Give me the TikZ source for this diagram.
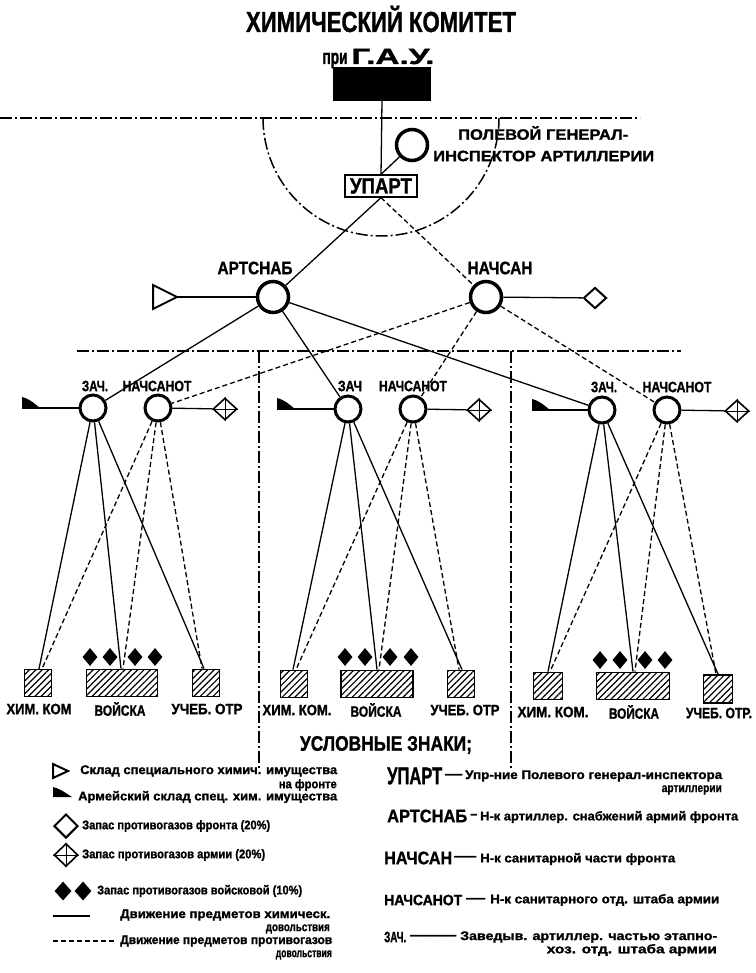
\documentclass[tikz,border=0pt]{standalone}
\usepackage{fontspec}
\setmainfont{Liberation Sans}[BoldFeatures={FakeBold=1.3}]
\usepackage{graphicx}
\usetikzlibrary{shapes.geometric,patterns.meta}
\newcommand\fw[2]{\resizebox{#1}{\height}{#2}}
\newcommand\fsz[1]{\bfseries\fontsize{#1}{#1}\selectfont}
\tikzset{
  ln/.style={line width=1.3pt},
  dsh/.style={line width=1.3pt, dash pattern=on 5pt off 3pt},
  dd/.style={line width=1.5pt, dash pattern=on 12pt off 3pt on 2pt off 3pt},
  org/.style={circle, draw, line width=3pt, minimum size=26pt, inner sep=0pt, fill=white},
  orgbig/.style={circle, draw, line width=3.5pt, minimum size=31pt, inner sep=0pt, fill=white},
  lbl/.style={inner sep=0pt, font=\fsz{15}},
  hbox/.style={draw, line width=1.8pt, pattern={Lines[angle=45,distance=4.5pt,line width=1.2pt]}, minimum height=27pt, inner sep=0pt},
  bd/.style={diamond, fill=black, minimum width=15pt, minimum height=18pt, inner sep=0pt},
  od/.style={diamond, draw, line width=2pt, minimum width=23pt, minimum height=21pt, inner sep=0pt},
  cd/.style={diamond, draw, line width=1.6pt, minimum width=24pt, minimum height=22pt, inner sep=0pt},
  sm/.style={inner sep=0pt, font=\fsz{12.5}},
}
\newcommand\crossin[1]{\draw[line width=1pt] (#1.north) -- (#1.south) (#1.west) -- (#1.east);}
\begin{document}
\begin{tikzpicture}[x=1pt,y=1pt]
\fill[white] (0,0) rectangle (755,-973);
\useasboundingbox (0,0) rectangle (755,-973);

% ---------- top ----------
\node[inner sep=0pt, font=\fsz{29}] (title) at (381,-19) {\fw{270pt}{ХИМИЧЕСКИЙ КОМИТЕТ}};
\node[inner sep=0pt, font=\fsz{21}, anchor=base] (pri) at (335,-64) {\fw{25pt}{при}};
\node[inner sep=0pt, font=\fsz{22}, anchor=base] (gaut) at (393,-64) {\fw{83pt}{Г.А.У.}};
\node[fill=black, minimum width=98pt, minimum height=34pt, inner sep=0pt] (gau) at (382,-84) {};

\draw[dd] (0,-118) -- (640,-118);
\draw[dd] (263,-118) arc[start angle=180, end angle=360, radius=118];

\node[orgbig] (pgi) at (412,-145) {};
\node[anchor=west, inner sep=0pt, font=\fsz{15}] (pgit1) at (458,-133) {\fw{170pt}{ПОЛЕВОЙ ГЕНЕРАЛ-}};
\node[anchor=west, inner sep=0pt, font=\fsz{15}] (pgit2) at (433,-156) {\fw{221pt}{ИНСПЕКТОР АРТИЛЛЕРИИ}};

\node[draw, fill=white, line width=1.3pt, minimum width=72pt, minimum height=22pt, inner sep=0pt, font=\fsz{22}] (upart) at (381,-186) {\fw{62pt}{УПАРТ}};

\draw[ln] (gau.south) -- (upart.north);
\draw[ln] (pgi) -- (upart.north);

% ---------- front level ----------
\node[orgbig] (artsnab) at (273,-297) {};
\node[orgbig] (nachsan) at (486,-297) {};
\node[inner sep=0pt, font=\fsz{18}] (artsnabL) at (255,-268) {\fw{75pt}{АРТСНАБ}};
\node[inner sep=0pt, font=\fsz{18}] (nachsanL) at (500,-268) {\fw{65pt}{НАЧСАН}};

\draw[line width=2pt, line join=miter] (153,-285) -- (177,-297) -- (153,-309) -- cycle;
\coordinate (tri) at (177,-297);
\node[od] (dfront) at (595,-298) {};

\draw[ln] (upart.south) -- (artsnab);
\draw[dsh] (upart.south) -- (nachsan);
\draw[ln] (tri) -- (artsnab);
\draw[ln] (nachsan) -- (dfront);

\draw[dd] (77,-351) -- (681,-351);
\draw[dd] (259,-351) -- (259,-770);
\draw[dd] (511,-351) -- (511,-768);

% ---------- group 1 ----------
\node[org] (zach1) at (93,-408) {};
\node[org] (nso1) at (158,-408) {};
\node[lbl] (zach1L) at (95,-386) {\fw{26pt}{ЗАЧ.}};
\node[lbl] (nso1L) at (157,-386) {\fw{69pt}{НАЧСАНОТ}};
\fill (22,-408) -- (22,-397) .. controls (30,-399) and (35,-404) .. (40,-408) -- cycle;
\coordinate (fl1) at (22,-408);
\node[cd] (dc1) at (225,-409) {};
\crossin{dc1}
\node[hbox, minimum width=27pt] (him1) at (38,-683) {};
\node[hbox, minimum width=71pt] (voi1) at (122,-683) {};
\node[hbox, minimum width=27pt] (uch1) at (206,-683) {};
\node[bd] (b11) at (90,-657) {};
\node[bd] (b12) at (110,-657) {};
\node[bd] (b13) at (135,-657) {};
\node[bd] (b14) at (155,-657) {};
\node[lbl] (him1L) at (39,-709) {\fw{65pt}{ХИМ. КОМ}};
\node[lbl] (voi1L) at (120,-709) {\fw{51pt}{ВОЙСКА}};
\node[lbl] (uch1L) at (207,-709) {\fw{71pt}{УЧЕБ. ОТР}};
\draw[ln] (fl1) -- (zach1);
\draw[ln] (nso1) -- (dc1);
\draw[ln] (zach1) -- ([xshift=1pt]him1.north);
\draw[ln] (zach1) -- ([xshift=-1pt]voi1.north);
\draw[ln] (zach1) -- ([xshift=-2pt]uch1.north);
\draw[dsh] (nso1) -- ([xshift=4pt]him1.north);
\draw[dsh] (nso1) -- ([xshift=1pt]voi1.north);
\draw[dsh] (nso1) -- ([xshift=-4pt]uch1.north);

% ---------- group 2 ----------
\node[org] (zach2) at (348,-409) {};
\node[org] (nso2) at (413,-409) {};
\node[lbl] (zach2L) at (350,-386) {\fw{24pt}{ЗАЧ}};
\node[lbl] (nso2L) at (413,-386) {\fw{68pt}{НАЧСАНОТ}};
\fill (277,-409) -- (277,-398) .. controls (285,-400) and (290,-405) .. (295,-409) -- cycle;
\coordinate (fl2) at (277,-409);
\node[cd] (dc2) at (479,-410) {};
\crossin{dc2}
\node[hbox, minimum width=27pt] (him2) at (294,-684) {};
\node[hbox, minimum width=72pt] (voi2) at (377,-684) {};
\node[hbox, minimum width=27pt] (uch2) at (461,-684) {};
\node[bd] (b21) at (345,-657) {};
\node[bd] (b22) at (365,-657) {};
\node[bd] (b23) at (390,-657) {};
\node[bd] (b24) at (411,-657) {};
\node[lbl] (him2L) at (297,-710) {\fw{69pt}{ХИМ. КОМ.}};
\node[lbl] (voi2L) at (376,-710) {\fw{51pt}{ВОЙСКА}};
\node[lbl] (uch2L) at (465,-710) {\fw{69pt}{УЧЕБ. ОТР}};
\draw[ln] (fl2) -- (zach2);
\draw[ln] (nso2) -- (dc2);
\draw[ln] (zach2) -- ([xshift=-1pt]him2.north);
\draw[ln] (zach2) -- ([xshift=0pt]voi2.north);
\draw[ln] (zach2) -- ([xshift=1pt]uch2.north);
\draw[dsh] (nso2) -- ([xshift=2pt]him2.north);
\draw[dsh] (nso2) -- ([xshift=2pt]voi2.north);
\draw[dsh] (nso2) -- ([xshift=-2pt]uch2.north);

% ---------- group 3 ----------
\node[org] (zach3) at (602,-410) {};
\node[org] (nso3) at (667,-410) {};
\node[lbl] (zach3L) at (604,-387) {\fw{26pt}{ЗАЧ.}};
\node[lbl] (nso3L) at (677,-387) {\fw{69pt}{НАЧСАНОТ}};
\fill (532,-410) -- (532,-399) .. controls (540,-401) and (545,-406) .. (550,-410) -- cycle;
\coordinate (fl3) at (532,-410);
\node[cd] (dc3) at (737,-411) {};
\crossin{dc3}
\node[hbox, minimum width=29pt] (him3) at (548,-686) {};
\node[hbox, minimum width=73pt] (voi3) at (633,-686) {};
\node[hbox, minimum width=29pt, minimum height=28pt] (uch3) at (718,-689) {};
\node[bd] (b31) at (600,-660) {};
\node[bd] (b32) at (620,-660) {};
\node[bd] (b33) at (645,-660) {};
\node[bd] (b34) at (665,-660) {};
\node[lbl] (him3L) at (553,-712) {\fw{71pt}{ХИМ. КОМ.}};
\node[lbl] (voi3L) at (634,-712) {\fw{50pt}{ВОЙСКА}};
\node[lbl] (uch3L) at (719,-713) {\fw{66pt}{УЧЕБ. ОТР.}};
\draw[ln] (fl3) -- (zach3);
\draw[ln] (nso3) -- (dc3);
\draw[ln] (zach3) -- ([xshift=0pt]him3.north);
\draw[ln] (zach3) -- ([xshift=0pt]voi3.north);
\draw[ln] (zach3) -- ([xshift=0pt]uch3.north);
\draw[dsh] (nso3) -- ([xshift=2pt]him3.north);
\draw[dsh] (nso3) -- ([xshift=2pt]voi3.north);
\draw[dsh] (nso3) -- ([xshift=-2pt]uch3.north);

% ---------- front to army ----------
\draw[ln] (artsnab) -- (zach1);
\draw[ln] (artsnab) -- (zach2);
\draw[ln] (artsnab) -- (zach3);
\draw[dsh] (nachsan) -- (nso1);
\draw[dsh] (nachsan) -- (nso2);
\draw[dsh] (nachsan) -- (nso3);

% ---------- legend ----------
\node[inner sep=0pt, font=\fsz{21}] (legT) at (386,-745) {\fw{172pt}{УСЛОВНЫЕ ЗНАКИ;}};

\draw[line width=2pt, line join=miter] (53,-764) -- (68,-771) -- (53,-778) -- cycle;
\node[sm, anchor=west] (lt1) at (80,-771) {\fw{257pt}{Склад специального химич. имущества}};
\node[sm, anchor=east] (lt1b) at (337,-785) {\fw{58pt}{на фронте}};
\fill (53,-797) -- (53,-787) .. controls (61,-789) and (67,-794) .. (72,-797) -- cycle;
\node[sm, anchor=west] (lt2) at (78,-797) {\fw{259pt}{Армейский склад спец. хим. имущества}};
\node[od, minimum width=24pt, minimum height=24pt] (lgd1) at (66,-826) {};
\node[sm, anchor=west] (lt3) at (82,-826) {\fw{188pt}{Запас противогазов фронта (20\%)}};
\node[cd, minimum width=24pt, minimum height=23pt] (lgd2) at (66,-855) {};
\crossin{lgd2}
\node[sm, anchor=west] (lt4) at (82,-855) {\fw{183pt}{Запас противогазов армии (20\%)}};
\node[bd, minimum width=17pt, minimum height=19pt] (lgb1) at (63,-891) {};
\node[bd, minimum width=17pt, minimum height=19pt] (lgb2) at (83,-891) {};
\node[sm, anchor=west] (lt5) at (97,-891) {\fw{205pt}{Запас противогазов войсковой (10\%)}};
\draw[ln] (53,-916) -- (90,-916);
\node[sm, anchor=west] (lt6) at (120,-915) {\fw{210pt}{Движение предметов химическ.}};
\node[sm, anchor=east] (lt6b) at (330,-929) {\fw{64pt}{довольствия}};
\draw[dsh] (53,-941) -- (115,-941);
\node[sm, anchor=west] (lt7) at (120,-941) {\fw{212pt}{Движение предметов противогазов}};
\node[sm, anchor=east] (lt7b) at (332,-955) {\fw{56pt}{довольствия}};

\node[inner sep=0pt, font=\fsz{24}, anchor=west] (rU) at (387,-776) {\fw{55pt}{УПАРТ}};
\node[sm, anchor=west] (rUd) at (445,-776) {\fw{17pt}{—}};
\node[sm, anchor=west] (rUt) at (465,-776) {\fw{257pt}{Упр-ние Полевого генерал-инспектора}};
\node[sm, anchor=east] (rUt2) at (722,-790) {\fw{60pt}{артиллерии}};
\node[inner sep=0pt, font=\fsz{18}, anchor=west] (rA) at (387,-816) {\fw{80pt}{АРТСНАБ}};
\node[sm, anchor=west] (rAd) at (470,-816) {\fw{7pt}{–}};
\node[sm, anchor=west] (rAt) at (480,-817) {\fw{258pt}{Н-к артиллер. снабжений армий фронта}};
\node[inner sep=0pt, font=\fsz{18}, anchor=west] (rN) at (384,-858) {\fw{68pt}{НАЧСАН}};
\node[sm, anchor=west] (rNd) at (454,-858) {\fw{22pt}{—}};
\node[sm, anchor=west] (rNt) at (480,-859) {\fw{195pt}{Н-к санитарной части фронта}};
\node[lbl, anchor=west] (rO) at (384,-900) {\fw{78pt}{НАЧСАНОТ}};
\node[sm, anchor=west] (rOd) at (466,-900) {\fw{19pt}{—}};
\node[sm, anchor=west] (rOt) at (490,-900) {\fw{229pt}{Н-к санитарного отд. штаба армии}};
\node[lbl, anchor=west] (rZ) at (384,-937) {\fw{22pt}{ЗАЧ.}};
\node[sm, anchor=west] (rZd) at (410,-937) {\fw{46pt}{———}};
\node[sm, anchor=west] (rZt) at (460,-937) {\fw{257pt}{Заведыв. артиллер. частью этапно-}};
\node[sm, anchor=east] (rZt2) at (717,-950) {\fw{170pt}{хоз. отд. штаба армии}};
\end{tikzpicture}
\end{document}
